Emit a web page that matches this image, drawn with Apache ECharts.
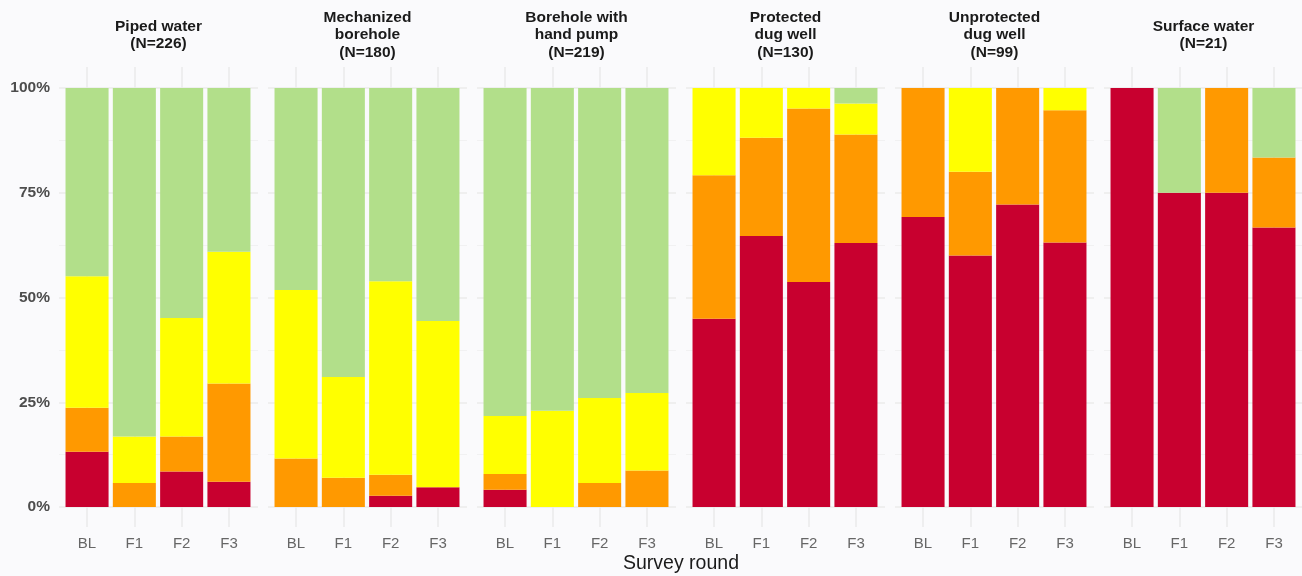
<!DOCTYPE html>
<html lang="en">
  <head>
    <meta charset="utf-8" />
    <script src="https://cdn.jsdelivr.net/npm/echarts@6/dist/echarts.min.js"></script>
    <title>Risk by water source and survey round</title>
    <style>
      html, body { margin: 0; padding: 0; background: #fafafc; }
      #chart { width: 1302px; height: 576px; }
    </style>
  </head>
  <body>
    <div id="chart"></div>
    <script>
      // survey rounds (x categories) and facets
      var rounds = ['BL', 'F1', 'F2', 'F3']
      var facets = ['Piped water', 'Mechanized\nborehole', 'Borehole with\nhand pump', 'Protected\ndug well', 'Unprotected\ndug well', 'Surface water']
      var facetN = [226, 180, 219, 130, 99, 21]
      var yTicks = [0, 25, 50, 75, 100]

      // share (%) of each risk level, one row per facet, one value per round
      var veryHigh = [
        [13.2, 0, 8.5, 6.0],
        [0, 0, 2.7, 4.7],
        [4.1, 0, 0, 0],
        [44.9, 64.7, 53.7, 63.0],
        [69.2, 60.0, 72.2, 63.1],
        [100, 75, 75, 66.7]
      ]
      var high = [
        [10.5, 5.7, 8.3, 23.5],
        [11.6, 7.0, 5.0, 0],
        [3.8, 0, 5.7, 8.7],
        [34.3, 23.4, 41.4, 25.9],
        [30.8, 20.0, 27.8, 31.6],
        [0, 0, 25, 16.7]
      ]
      var intermediate = [
        [31.4, 11.1, 28.3, 31.4],
        [40.2, 24.0, 46.2, 39.7],
        [13.8, 23.0, 20.3, 18.5],
        [20.8, 11.9, 4.9, 7.4],
        [0, 20.0, 0, 5.3],
        [0, 0, 0, 0]
      ]
      var low = [
        [44.9, 83.2, 54.9, 39.1],
        [48.2, 69.0, 46.1, 55.6],
        [78.3, 77.0, 74.0, 72.8],
        [0, 0, 0, 3.7],
        [0, 0, 0, 0],
        [0, 25, 0, 16.7]
      ]

      var levels = [
        { name: 'Very high', data: veryHigh, color: '#c8002f' },
        { name: 'High', data: high, color: '#ff9900' },
        { name: 'Intermediate', data: intermediate, color: '#ffff00' },
        { name: 'Low', data: low, color: '#b2df8a' }
      ]

      var font = 'Liberation Sans, Arial, sans-serif'
      var step = 209
      var grids = [], xAxes = [], yAxes = [], series = [], texts = []

      facets.forEach(function (facet, i) {
        var base = grids.length
        // grid for vertical gridlines and round labels
        grids.push({ left: 87 + step * i, width: 142, top: 67, height: 460 })
        xAxes.push({
          type: 'category', gridIndex: base, data: rounds, boundaryGap: false,
          axisLine: { show: false }, axisTick: { show: false },
          axisLabel: { color: '#666666', fontSize: 15, fontFamily: font, margin: 9 },
          splitLine: { show: true, lineStyle: { color: '#ebebeb', width: 1.6 } }
        })
        yAxes.push({ type: 'value', gridIndex: base, min: 0, max: 1, show: false })

        // grid for horizontal gridlines and % labels
        grids.push({ left: 59 + step * i, width: 199, top: 88, height: 419 })
        xAxes.push({ type: 'value', gridIndex: base + 1, min: 0, max: 1, show: false })
        yAxes.push({
          type: 'value', gridIndex: base + 1, min: yTicks[0], max: yTicks[yTicks.length - 1], interval: 25,
          axisLine: { show: false }, axisTick: { show: false },
          axisLabel: { show: i === 0, formatter: '{value}%', color: '#4d4d4d', fontSize: 15.5, fontWeight: 'bold', fontFamily: font, margin: 9 },
          splitLine: { lineStyle: { color: '#ebebeb', width: 1.6 } },
          minorTick: { show: false, splitNumber: 2 },
          minorSplitLine: { show: true, lineStyle: { color: '#efefef', width: 0.8 } }
        })

        // grid for the bars
        grids.push({ left: 63.4 + step * i, width: 189.2, top: 88, height: 419 })
        xAxes.push({ type: 'category', gridIndex: base + 2, data: rounds, show: false })
        yAxes.push({ type: 'value', gridIndex: base + 2, min: 0, max: 100, show: false })

        levels.forEach(function (lv) {
          series.push({
            type: 'bar', name: lv.name, stack: 'f' + i,
            xAxisIndex: base + 2, yAxisIndex: base + 2,
            barCategoryGap: '9%',
            itemStyle: { color: lv.color },
            emphasis: { disabled: true },
            data: lv.data[i]
          })
        })

        texts.push({
          type: 'text', x: 158.5 + step * i, y: 35,
          style: {
            text: facet + '\n(N=' + facetN[i] + ')',
            align: 'center', verticalAlign: 'middle',
            fontSize: 15.5, fontWeight: 'bold', fontFamily: font,
            lineHeight: 17.5, fill: '#1a1a1a'
          }
        })
      })

      texts.push({
        type: 'text', x: 681, y: 564,
        style: {
          text: 'Survey round', align: 'center', verticalAlign: 'middle',
          fontSize: 19.5, fontFamily: font, fill: '#1a1a1a'
        }
      })

      var chart = echarts.init(document.getElementById('chart'))
      chart.setOption({
        backgroundColor: '#fafafc',
        animation: false,
        grid: grids,
        xAxis: xAxes,
        yAxis: yAxes,
        series: series,
        graphic: texts
      })
    </script>
  </body>
</html>
